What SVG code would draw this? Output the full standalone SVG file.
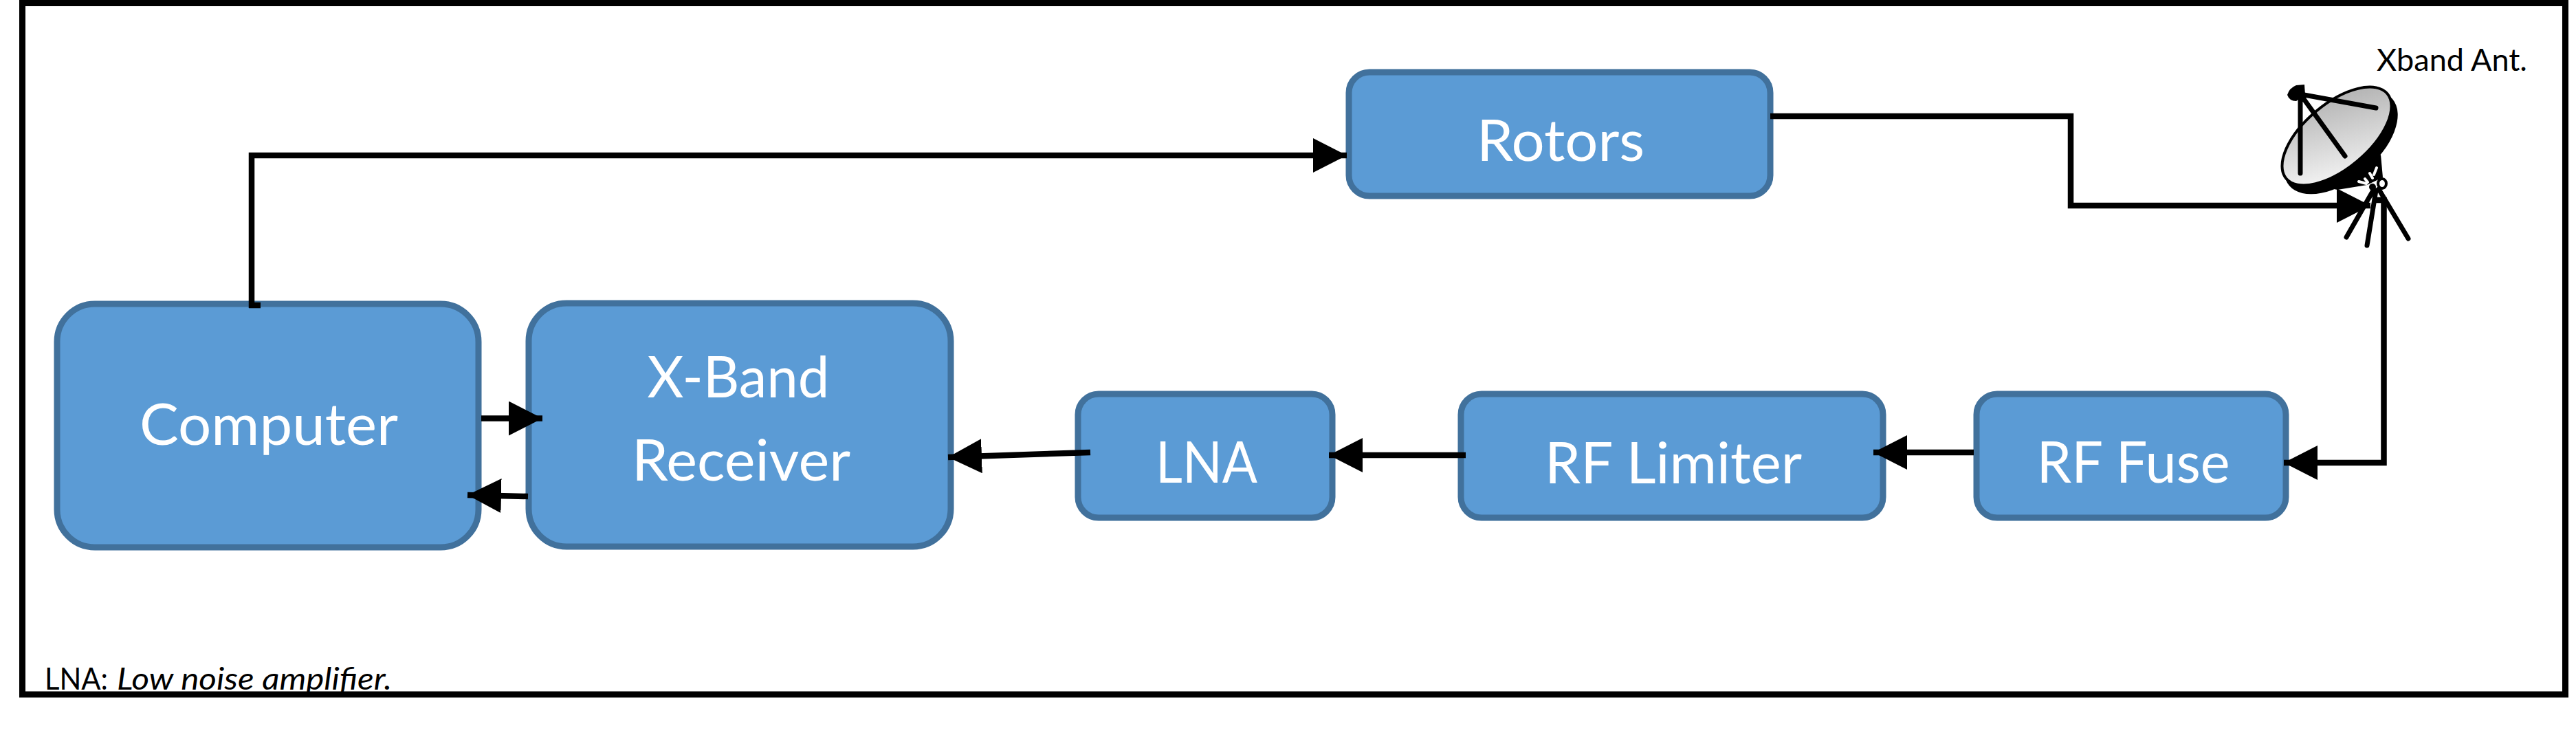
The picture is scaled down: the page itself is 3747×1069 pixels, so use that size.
<svg xmlns="http://www.w3.org/2000/svg" width="3747" height="1069" viewBox="0 0 3747 1069">
<style>
.n{fill:#5b9bd5;stroke:#41719c;stroke-width:9}
.t{font-family:Lato,"Noto Sans",sans-serif;font-size:84px;fill:#fff;text-anchor:middle}
.b{font-family:Lato,"Noto Sans",sans-serif;font-size:45px;fill:#000}
.c{fill:none;stroke:#000;stroke-width:8.5}
.k{fill:none;stroke:#000;stroke-width:7;stroke-linecap:round}
.w{fill:none;stroke:#fff;stroke-width:4;stroke-linecap:round}
</style>
<defs>
<marker id="a" markerUnits="userSpaceOnUse" markerWidth="50" markerHeight="50" refX="49" refY="25" orient="auto"><path d="M0 0L49 25L0 50Z" fill="#000"/></marker>
<linearGradient id="g" x1="0" y1="1" x2="1" y2="0"><stop offset="0" stop-color="#fdfdfd"/><stop offset="1" stop-color="#a8a8a8"/></linearGradient>
</defs>
<rect width="3747" height="1069" fill="#fff"/>
<g id="rotors"><rect class="n" x="1962" y="105" width="613" height="180" rx="30" ry="30"/><text class="t" x="2270" y="234" textLength="244" lengthAdjust="spacingAndGlyphs">Rotors</text></g>
<g id="computer"><rect class="n" x="83" y="442" width="613" height="354" rx="55" ry="55"/><text class="t" x="391" y="647" textLength="376" lengthAdjust="spacingAndGlyphs">Computer</text></g>
<g id="xband"><rect class="n" x="769" y="441" width="614" height="354" rx="55" ry="55"/><text class="t" x="1074" y="578" textLength="265" lengthAdjust="spacingAndGlyphs">X-Band</text><text class="t" x="1078" y="699" textLength="318" lengthAdjust="spacingAndGlyphs">Receiver</text></g>
<g id="lna"><rect class="n" x="1568" y="573" width="370" height="180" rx="30" ry="30"/><text class="t" x="1755" y="702" textLength="148" lengthAdjust="spacingAndGlyphs">LNA</text></g>
<g id="limiter"><rect class="n" x="2125" y="573" width="614" height="180" rx="30" ry="30"/><text class="t" x="2434" y="703" textLength="374" lengthAdjust="spacingAndGlyphs">RF Limiter</text></g>
<g id="fuse"><rect class="n" x="2875" y="573" width="450" height="180" rx="30" ry="30"/><text class="t" x="3103" y="702" textLength="281" lengthAdjust="spacingAndGlyphs">RF Fuse</text></g>
<g id="antenna">
<path d="M3463 225L3466 258L3443 269L3400 276L3370 270Z" fill="#000"/>
<ellipse cx="3405" cy="207" rx="98" ry="54" transform="rotate(-40 3405 207)" fill="#000"/>
<ellipse cx="3399" cy="198" rx="96" ry="47" transform="rotate(-40 3399 198)" fill="url(#g)" stroke="#000" stroke-width="4"/>
<path d="M3327 138Q3330 128 3340 124L3352 123L3353 138L3340 147Q3330 147 3327 138Z" fill="#000"/>
<path class="k" d="M3346 137L3346 252M3346 137L3411 227M3346 137L3456 157"/>
<path class="w" d="M3457 244L3453 254M3447 252L3451 259M3440 260L3444 265M3431 264L3442 267"/>
<path class="k" d="M3452 277L3413 345M3456 277L3443 357M3460 275L3503 347"/>
<ellipse cx="3465" cy="267" rx="6" ry="7" fill="#fff" stroke="#000" stroke-width="4"/>
<circle cx="3451" cy="272" r="5" fill="#000"/>
</g>
<text id="ant-label" class="b" x="3457" y="103" textLength="219" lengthAdjust="spacingAndGlyphs">Xband Ant.</text>
<g id="note"><text class="b" x="65" y="1003" textLength="92" lengthAdjust="spacingAndGlyphs">LNA:</text><text class="b" x="170" y="1003" font-style="italic" textLength="400" lengthAdjust="spacingAndGlyphs">Low noise amplifier.</text></g>
<rect id="frame" x="32.5" y="4.5" width="3699" height="1005.5" fill="none" stroke="#000" stroke-width="9"/>
<g id="connectors">
<path class="c" marker-end="url(#a)" d="M366 448V226H1959"/>
<path class="c" d="M362 444H379"/>
<path class="c" marker-end="url(#a)" d="M2575 169H3012V299H3448"/>
<path class="c" marker-end="url(#a)" d="M3456 291H3467.5V673H3322"/>
<path class="c" marker-end="url(#a)" d="M700 608.5H789"/>
<path class="c" marker-end="url(#a)" d="M768 722L680 720"/>
<path class="c" marker-end="url(#a)" d="M1586 658L1379 665"/>
<path class="c" marker-end="url(#a)" d="M2132 662H1933"/>
<path class="c" marker-end="url(#a)" d="M2871 658H2725"/>
</g>
</svg>
